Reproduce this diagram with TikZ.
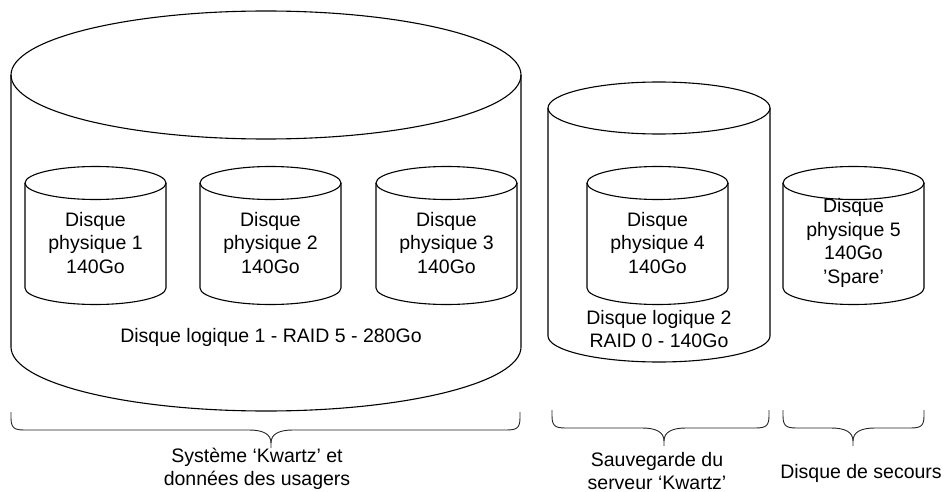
\documentclass[tikz,border=0pt]{standalone}
\usepackage{fontspec}
\setmainfont{Liberation Sans}
\tikzset{
  cyl/.style={line width=1.1pt, draw=black},
  brc/.style={line width=0.9pt, draw=black!85, line join=round},
  lbl/.style={align=center, font=\fontsize{19.5}{23.5}\selectfont, inner sep=0pt},
  lblb/.style={align=center, font=\fontsize{19.5}{21.5}\selectfont, inner sep=0pt},
}
% cx, rx, ytop-center, ybottom-center, ry
\newcommand\cylndr[5]{%
  \draw[cyl] (#1,-#3) ellipse [x radius=#2pt, y radius=#5pt];
  \draw[cyl] (#1-#2,-#3) -- (#1-#2,-#4) arc [start angle=180, end angle=360, x radius=#2pt, y radius=#5pt] -- (#1+#2,-#3);
}
% xL, xR, xtip, ytop
\newcommand\bracedown[4]{%
  \draw[brc] (#1,-#4) -- (#1,-#4-6) .. controls (#1,-#4-18) and (#1+5,-#4-18) .. (#1+17,-#4-18)
    -- (#3-22,-#4-18) .. controls (#3-8,-#4-18) and (#3,-#4-22) .. (#3,-#4-31) -- (#3,-#4-36);
  \draw[brc] (#2,-#4) -- (#2,-#4-6) .. controls (#2,-#4-18) and (#2-5,-#4-18) .. (#2-17,-#4-18)
    -- (#3+22,-#4-18) .. controls (#3+8,-#4-18) and (#3,-#4-22) .. (#3,-#4-31);
}
\begin{document}
\begin{tikzpicture}[x=1pt,y=1pt]
\useasboundingbox (0,0) rectangle (944,-492);
% big logical disk 1
\cylndr{266}{255}{75}{347}{64}
% logical disk 2
\cylndr{659}{111}{108}{336}{26}
% physical disks
\cylndr{95.5}{70.5}{183}{288}{16.5}
\cylndr{270.5}{70.5}{183}{288}{16.5}
\cylndr{446.5}{70.5}{183}{288}{16.5}
\cylndr{657.5}{70.5}{183}{288}{16.5}
\cylndr{853.5}{70.5}{183}{288}{16.5}
% labels
\node[lbl] (d1) at (95.5,-243) {Disque\\physique 1\\140Go};
\node[lbl] (d2) at (270.5,-243) {Disque\\physique 2\\140Go};
\node[lbl] (d3) at (446.5,-243) {Disque\\physique 3\\140Go};
\node[lbl] (d4) at (657.5,-243) {Disque\\physique 4\\140Go};
\node[lbl] (d5) at (853.5,-243) {Disque\\physique 5\\140Go\\’Spare’};
\node[lbl] (l1) at (271,-337) {Disque logique 1 - RAID 5 - 280Go};
\node[lbl] (l2) at (659,-329) {Disque logique 2\\RAID 0 - 140Go};
% braces
\bracedown{11}{520}{271}{412}
\bracedown{552}{769}{664}{410}
\bracedown{783}{924}{853}{410}
\node[lbl, anchor=south] (t1) at (257,-490) {Système ‘Kwartz’ et\\données des usagers};
\node[lbl, anchor=south] (t2) at (657,-490) {Sauvegarde du\\serveur ‘Kwartz’};
\node[lbl] (t3) at (861,-473) {Disque de secours};
\end{tikzpicture}
\end{document}
